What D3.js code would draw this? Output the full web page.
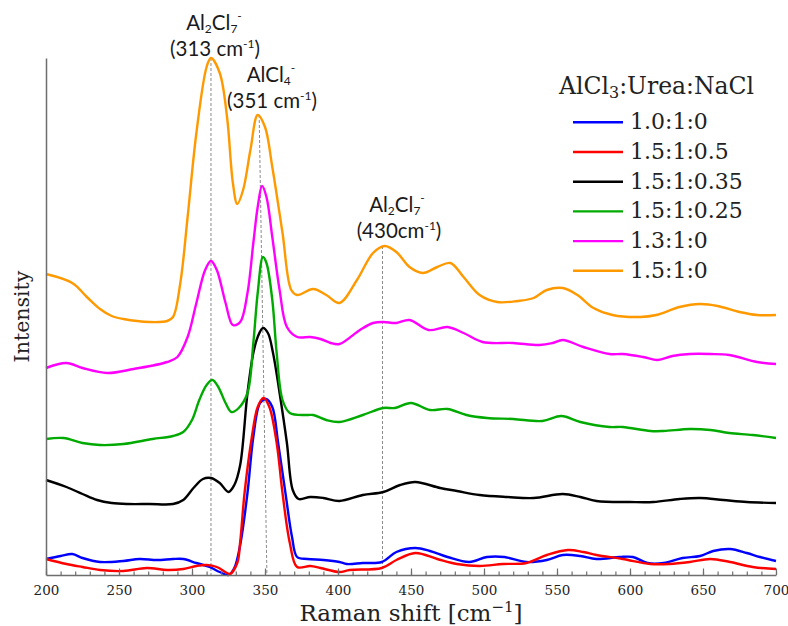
<!DOCTYPE html>
<html>
<head>
<meta charset="utf-8">
<script src="https://cdn.jsdelivr.net/npm/d3@7/dist/d3.min.js"></script>
<style>
  html, body { margin: 0; padding: 0; background: #fff; }
  svg { display: block; }
</style>
</head>
<body>
<svg id="chart" width="788" height="626"></svg>
<script>
// Raman spectra of AlCl3:Urea:NaCl mixtures, [shift (cm^-1), intensity (a.u., offset)]
const spec_1_0_1_0 = [[200,16],[210,19],[218,21],[225,17],[237,13],[253,14],[264,16],[276,15],[287,16],[294,16],[303,12],[312,8],[319,3],[325,0],[329,7],[333,30],[338,82],[342,138],[346.6,172],[350.7,176],[355,168],[359,132],[364,82],[368.5,38],[372,18],[379,16],[390,15],[401,13],[406,11],[417,12],[430,13],[440,23],[453,27],[463,24],[475,18],[490,13],[502,18],[514,18],[529,13],[543,15],[554,20],[566,19],[577,16],[593,18],[602,18],[612,12],[623,12],[636,17],[648,19],[657,24],[668.5,26],[680,22],[689,18],[700,14]];
const spec_1_5_1_05 = [[200,16],[214,11],[225,8],[237,5],[253,4],[269,7],[283,5],[294,6],[303,9],[310,10],[317,8],[324,2],[326,1],[331,12],[333,33],[336,82],[341,138],[345,168],[349,177],[353,168],[358,132],[362,82],[367,32],[372,8],[381,9],[388,7],[401,3],[408,5],[430,7],[440,15],[453,22],[468,16],[481.5,11],[497,9],[513,11],[529,12],[543,20],[557.5,25],[568,23],[577,20],[595,16],[614,11],[627,11],[641,13],[655,16],[668.5,13],[684,8],[700,6]];
const spec_1_5_1_035 = [[200,95],[214,88],[225,81],[235,75],[245,72],[256,71],[271,71],[287,71],[294,75],[301,87],[307.5,96],[313,97],[319,92],[325,83],[329,90],[333,110],[338,182],[342,222],[345,238],[348.6,247],[352,242],[355.5,222],[360,182],[365,132],[369,85],[373,76],[381,78],[390,77],[401,74],[417,80],[431,83],[442.5,90],[453,93],[470,87],[481.5,84],[497,80],[516,78],[534,77],[554,81],[566,78],[577,74],[600,73],[616,73],[634,76],[648,77],[664,75],[680,73],[700,72]];
const spec_1_5_1_025 = [[200,136],[212,137],[225,132],[237,130],[253,131],[273,136],[287,139],[294,143],[300,155],[305,175],[310,190],[314,195],[318,188],[323,172],[327,163],[332,167],[338,182],[342,232],[345,282],[348.6,318],[351,312],[355,275],[358,222],[362,175],[367,162],[379,160],[383,160],[392,155],[401,153],[417,160],[431,167],[439,167],[450,172],[463,165],[475,166],[488,160],[502,157],[520,156],[540,154],[553,159],[566,153],[586,148],[595,148],[614,144],[623,144],[641,146],[655,145],[668,142],[684,140],[700,137]];
const spec_1_3_1_0 = [[200,207],[214,212],[225,207],[242,202],[260,206],[283,213],[290,218],[297,238],[303,272],[309,305],[313,314],[317,305],[323,272],[328,250],[333,253],[338,282],[342,332],[345,368],[348,389],[351,378],[355,338],[360,285],[365,248],[372,238],[381,238],[388,236],[395,232],[401,231],[415,245],[424,252],[431,253],[440,252],[449,255],[462,245],[475,248],[486,242],[499,233],[520,232],[538,230],[547,232],[554,235],[568,228],[586,221],[595,221],[609,218],[619,215],[629,219],[641,221],[655,221],[668,220],[687,213],[700,211]];
const spec_1_5_1_0 = [[200,301],[218,292],[228,278],[237,266],[245,259],[253,256],[271,253],[283,254],[287,258],[292,292],[297,358],[303,442],[310,508],[313,517],[319,502],[324,458],[328,392],[331,371],[335,385],[340,425],[345,460],[350,448],[355,408],[362,342],[368,285],[372,280],[383,286],[392,280],[401,272],[413,295],[424,322],[432,329],[440,323],[449,308],[458,302],[468,308],[477,312],[486,298],[497,280],[509,273],[523,274],[534,277],[543,285],[554,287],[564,280],[575,267],[588,260],[607,258],[618,260],[634,268],[648,271],[660,269],[675,263],[687,260],[700,260]];

const seriesLabels = ["1.0:1:0", "1.5:1:0.5", "1.5:1:0.35", "1.5:1:0.25", "1.3:1:0", "1.5:1:0"];
const seriesColors = ["#0000ff", "#ff0000", "#000000", "#00aa00", "#ff00ff", "#ff9900"];
const seriesData = [spec_1_0_1_0, spec_1_5_1_05, spec_1_5_1_035, spec_1_5_1_025, spec_1_3_1_0, spec_1_5_1_0];

const majorTicks = [200, 250, 300, 350, 400, 450, 500, 550, 600, 650, 700];
const minorTicks = d3.range(200, 701, 10);

// Band assignments
const bandNames = ["Al2Cl7", "AlCl4", "Al2Cl7"];
const bandLabels = ["(313 cm", "(351 cm", "(430cm"];
const bandTopShift = [313, 346, 430.5];
const bandBaseShift = [313, 351.3, 430.5];
const bandTopValue = [517, 460, 329];

const svg = d3.select("#chart");
const W = 788, H = 626;
const margin = { left: 46, right: 12, top: 58, bottom: 51 };

const x = d3.scaleLinear().domain([200, 700]).range([margin.left, W - margin.right]);
const y = d3.scaleLinear().domain([0, 517]).range([H - margin.bottom, margin.top]);

const axisColor = "#6e6e6e";
const serif = "'DejaVu Serif', 'Liberation Serif', serif";

// Guide lines for assigned bands
const guides = svg.append("g").attr("class", "guides");
bandTopShift.forEach((s, i) => {
  guides.append("line")
    .attr("x1", x(s)).attr("y1", y(bandTopValue[i]))
    .attr("x2", x(bandBaseShift[i])).attr("y2", y(0))
    .attr("stroke", "#8a8a8a").attr("stroke-width", 1)
    .attr("stroke-dasharray", "3,2");
});

// Spectra
const line = d3.line()
  .x(d => x(d[0]))
  .y(d => y(d[1]))
  .curve(d3.curveCatmullRom.alpha(0.5));

svg.append("g").attr("class", "spectra")
  .selectAll("path")
  .data(seriesData)
  .join("path")
  .attr("d", line)
  .attr("fill", "none")
  .attr("stroke", (d, i) => seriesColors[i])
  .attr("stroke-width", 2.4)
  .attr("stroke-linejoin", "round");

// X axis: minor ticks every 10, major every 50
const xMinor = svg.append("g")
  .attr("transform", `translate(0,${y(0)})`)
  .call(d3.axisBottom(x).tickValues(minorTicks).tickSize(-3.5).tickSizeOuter(0).tickFormat(""));
xMinor.select(".domain").remove();
xMinor.selectAll("line").attr("stroke", axisColor).attr("stroke-width", 1.2);

const xAxis = svg.append("g")
  .attr("transform", `translate(0,${y(0)})`)
  .call(d3.axisBottom(x).tickValues(majorTicks).tickSize(-6.5).tickSizeOuter(0));
xAxis.select(".domain").attr("stroke", axisColor).attr("stroke-width", 1.5);
xAxis.selectAll(".tick line").attr("stroke", axisColor).attr("stroke-width", 1.2);
xAxis.selectAll(".tick text")
  .attr("y", 20).attr("dy", 0)
  .attr("fill", "#222")
  .style("font-family", serif)
  .style("font-size", "13.5px");

// Y axis: bare spine
const yAxis = svg.append("g")
  .attr("transform", `translate(${margin.left},0)`)
  .call(d3.axisLeft(y).tickValues([]).tickSizeOuter(0));
yAxis.select(".domain").attr("stroke", axisColor).attr("stroke-width", 1.5);

// Axis titles
const xTitle = svg.append("text")
  .attr("x", (x.range()[0] + x.range()[1]) / 2)
  .attr("y", 621)
  .attr("text-anchor", "middle")
  .attr("fill", "#222")
  .style("font-family", serif)
  .style("font-size", "23px");
xTitle.append("tspan").text("Raman shift [cm");
xTitle.append("tspan").attr("dy", -9).style("font-size", "15px").text("\u22121");
xTitle.append("tspan").attr("dy", 9).text("]");

svg.append("text")
  .attr("transform", `translate(29,${(y(0) + y(517)) / 2}) rotate(-90)`)
  .attr("text-anchor", "middle")
  .attr("fill", "#222")
  .style("font-family", serif)
  .style("font-size", "20.5px")
  .text("Intensity");

// Band annotations
const sans = "Lato, 'Open Sans', sans-serif";
const annCenters = [214, 271, 397];
const annTop = [30, 82, 212];
const annSub = [["2", "7"], ["", "4"], ["2", "7"]];
bandNames.forEach((nm, i) => {
  const t = svg.append("text")
    .attr("x", annCenters[i]).attr("y", annTop[i])
    .attr("text-anchor", "middle")
    .attr("fill", "#1a1a1a")
    .style("font-family", sans)
    .style("font-size", "20.5px");
  t.append("tspan").text("Al");
  if (annSub[i][0]) t.append("tspan").attr("dy", 3).style("font-size", "12px").text(annSub[i][0]);
  t.append("tspan").attr("dy", annSub[i][0] ? -3 : 0).text("Cl");
  t.append("tspan").attr("dy", 3).style("font-size", "12px").text(annSub[i][1]);
  t.append("tspan").attr("dy", -13).style("font-size", "12px").text("-");

  const u = svg.append("text")
    .attr("x", annCenters[i] + (i === 2 ? 2 : 1)).attr("y", annTop[i] + 26)
    .attr("text-anchor", "middle")
    .attr("fill", "#1a1a1a")
    .style("font-family", sans)
    .style("font-size", "20.5px");
  u.append("tspan").text(bandLabels[i]);
  u.append("tspan").attr("dy", -8).style("font-size", "12px").text("-1");
  u.append("tspan").attr("dy", 8).text(")");
});

// Legend
const legend = svg.append("g").attr("class", "legend");
const lt = legend.append("text")
  .attr("x", 559).attr("y", 94)
  .attr("fill", "#222")
  .style("font-family", serif)
  .style("font-size", "23.5px");
lt.append("tspan").text("AlCl");
lt.append("tspan").attr("dy", 4).style("font-size", "16px").text("3");
lt.append("tspan").attr("dy", -4).text(":Urea:NaCl");

seriesLabels.forEach((lab, i) => {
  const ly = 122.3 + i * 29.7;
  legend.append("line")
    .attr("x1", 573).attr("x2", 623)
    .attr("y1", ly).attr("y2", ly)
    .attr("stroke", seriesColors[i]).attr("stroke-width", 2.4);
  legend.append("text")
    .attr("x", 630).attr("y", ly + 7)
    .attr("fill", "#222")
    .style("font-family", serif)
    .style("font-size", "22px")
    .text(lab);
});
</script>
</body>
</html>
